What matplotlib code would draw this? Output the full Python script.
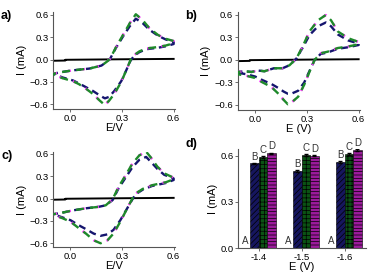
import numpy as np
import matplotlib
matplotlib.use("Agg")
import matplotlib.pyplot as plt

plt.rcParams['font.family'] = ['Liberation Sans', 'DejaVu Sans']
plt.rcParams['font.size'] = 6
plt.rcParams['hatch.linewidth'] = 0.5

# =========================
# data
# =========================

# panel a (outer = green / magenta, inner = navy)
a_E = [-0.10, -0.06, 0.01, 0.11, 0.18, 0.21, 0.23, 0.265, 0.305, 0.345, 0.38, 0.42, 0.46, 0.51, 0.555, 0.60,
       0.60, 0.555, 0.51, 0.44, 0.40, 0.37, 0.35, 0.325, 0.295, 0.255, 0.225, 0.20, 0.17, 0.13, 0.09, 0.05, 0.015, -0.045, -0.10]
a_I = [-0.19, -0.17, -0.145, -0.12, -0.08, -0.03, 0.01, 0.17, 0.33, 0.49, 0.61, 0.53, 0.42, 0.33, 0.28, 0.25,
       0.22, 0.19, 0.17, 0.15, 0.11, 0.06, 0.0, -0.14, -0.30, -0.46, -0.55, -0.61, -0.55, -0.46, -0.39, -0.33, -0.29, -0.25, -0.20]
a_I_navy = [-0.19, -0.17, -0.145, -0.12, -0.08, -0.03, 0.01, 0.16, 0.31, 0.45, 0.55, 0.49, 0.40, 0.32, 0.27, 0.24,
            0.21, 0.18, 0.16, 0.14, 0.10, 0.05, -0.01, -0.14, -0.29, -0.42, -0.50, -0.52, -0.48, -0.42, -0.37, -0.32, -0.28, -0.24, -0.19]

# panel b
b_E = [-0.10, -0.06, -0.02, 0.015, 0.055, 0.11, 0.16, 0.20, 0.24, 0.28, 0.315, 0.365, 0.41, 0.44, 0.48, 0.54, 0.60,
       0.60, 0.54, 0.48, 0.42, 0.38, 0.345, 0.315, 0.285, 0.25, 0.21, 0.19, 0.165, 0.14, 0.095, 0.045, 0.0, -0.05, -0.10]
b_I = [-0.16, -0.15, -0.16, -0.14, -0.15, -0.11, -0.11, -0.07, 0.02, 0.20, 0.38, 0.53, 0.60, 0.53, 0.38, 0.29, 0.24,
       0.21, 0.18, 0.16, 0.11, 0.09, 0.0, -0.16, -0.33, -0.49, -0.57, -0.59, -0.53, -0.46, -0.36, -0.30, -0.24, -0.21, -0.19]
b_I_navy = [-0.16, -0.15, -0.16, -0.14, -0.15, -0.11, -0.11, -0.07, 0.02, 0.18, 0.33, 0.45, 0.50, 0.45, 0.34, 0.26, 0.22,
            0.20, 0.17, 0.15, 0.10, 0.08, 0.0, -0.15, -0.30, -0.41, -0.45, -0.45, -0.42, -0.38, -0.32, -0.27, -0.22, -0.19, -0.17]

# panel c
c_E = [-0.10, -0.05, 0.01, 0.09, 0.165, 0.205, 0.245, 0.28, 0.32, 0.36, 0.40, 0.44, 0.465, 0.505, 0.545, 0.60,
       0.60, 0.555, 0.475, 0.42, 0.38, 0.36, 0.33, 0.29, 0.25, 0.215, 0.175, 0.135, 0.09, 0.05, 0.0, -0.05, -0.10]
c_I = [-0.21, -0.19, -0.16, -0.13, -0.11, -0.09, -0.01, 0.16, 0.31, 0.47, 0.58, 0.63, 0.56, 0.43, 0.34, 0.28,
       0.26, 0.22, 0.18, 0.13, 0.07, 0.0, -0.13, -0.31, -0.47, -0.56, -0.60, -0.56, -0.47, -0.40, -0.31, -0.26, -0.22]
c_I_navy = [-0.21, -0.19, -0.16, -0.13, -0.11, -0.09, -0.02, 0.14, 0.28, 0.42, 0.52, 0.56, 0.50, 0.40, 0.32, 0.27,
            0.25, 0.21, 0.17, 0.12, 0.06, -0.01, -0.13, -0.29, -0.42, -0.48, -0.50, -0.47, -0.41, -0.36, -0.29, -0.25, -0.21]

# black blank line
blank_E = [-0.10, -0.03, -0.03, 0.30, 0.60]
blank_I = [-0.015, -0.012, -0.002, 0.005, 0.010]

# panel d bars
d_labels = ['-1.4', '-1.5', '-1.6']
d_A = [0.0, 0.0, 0.0]
d_B = [0.55, 0.50, 0.56]
d_C = [0.59, 0.605, 0.61]
d_D = [0.615, 0.60, 0.635]
d_err = [0.005, 0.005, 0.005]

W, H = 368, 273
fig = plt.figure(figsize=(W / 100, H / 100), dpi=100)


def box(l, t, r, b):
    return [l / W, 1 - b / H, (r - l) / W, (b - t) / H]


def style(ax):
    for s in ['top', 'right']:
        ax.spines[s].set_visible(False)
    for s in ['left', 'bottom']:
        ax.spines[s].set_color('#555555')
        ax.spines[s].set_linewidth(0.8)
    ax.tick_params(direction='out', length=2, width=0.6, pad=1.5, labelsize=6.8, color='#555555')


def cv_panel(rect, E, I, I_navy, xlab, ylim, tag):
    ax = fig.add_axes(rect)
    ax.plot(blank_E, blank_I, color='black', lw=1.4, zorder=1)
    ax.plot(E, I_navy, color='#15156e', lw=1.7, linestyle=(1, (3, 2)), zorder=2)
    # green dashes with magenta filling the gaps
    ax.plot(E, I, color='#ff3cff', lw=1.7, linestyle=(0, (1.6, 4.4)), zorder=3)
    ax.plot(E, I, color='#1e8a2a', lw=1.7, linestyle=(2.2, (3.4, 2.6)), zorder=4)
    ax.set_xlim(-0.1, 0.605)
    ax.set_ylim(*ylim)
    ax.set_xticks([0.0, 0.3, 0.6])
    ax.set_yticks([-0.6, -0.3, 0.0, 0.3, 0.6])
    ax.set_xlabel(xlab, fontsize=8, labelpad=0)
    ax.set_ylabel('I (mA)', fontsize=8, labelpad=2)
    style(ax)
    fig.text(rect[0] - 0.142, rect[1] + rect[3] + 0.005, tag, fontsize=9, fontweight='bold', va='top')
    return ax


cv_panel(box(53.3, 11.7, 174.5, 109), a_E, a_I, a_I_navy, 'E/V', (-0.663, 0.644), 'a)')
cv_panel(box(237.7, 11.7, 359.5, 110), b_E, b_I, b_I_navy, 'E (V)', (-0.667, 0.644), 'b)')
cv_panel(box(53.3, 151.7, 174.5, 247.3), c_E, c_I, c_I_navy, 'E/V', (-0.654, 0.63), 'c)')

# panel d
ax = fig.add_axes(box(238.3, 149, 366, 248.3))
x = np.arange(len(d_labels))
w = 0.2
series = [
    (d_A, 'A', '#888888', ''),
    (d_B, 'B', '#16165e', '//////'),
    (d_C, 'C', '#0b5214', '++++'),
    (d_D, 'D', '#9c1a9c', '-----'),
]
for k, (vals, name, col, hatch) in enumerate(series):
    pos = x + (k - 1.5) * w
    ax.bar(pos, vals, width=w, color=col, edgecolor='black', hatch=hatch, linewidth=0.4, zorder=2)
    if k > 0:
        ax.errorbar(pos, vals, yerr=d_err, fmt='none', ecolor='black', elinewidth=0.6, capsize=1.2, zorder=3)
    for p, v in zip(pos, vals):
        ax.text(p, v + 0.012, name, ha='center', va='bottom', fontsize=7, color='#333333')

ax.set_xlim(-0.47, 2.5)
ax.set_ylim(0, 0.643)
ax.set_xticks(x)
ax.set_xticklabels(d_labels)
ax.set_yticks([0.0, 0.3, 0.6])
ax.set_xlabel('E (V)', fontsize=8, labelpad=0)
ax.set_ylabel('I (mA)', fontsize=8, labelpad=2)
style(ax)
fig.text(186 / W, 1 - 138 / H, 'd)', fontsize=9, fontweight='bold', va='top')

fig.savefig('out.png', dpi=100)
